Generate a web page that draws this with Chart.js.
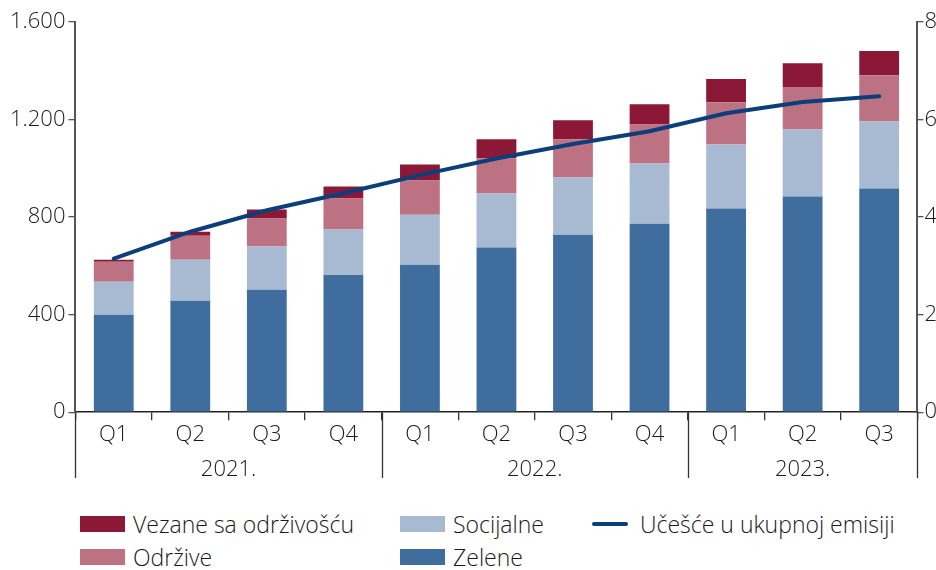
<!DOCTYPE html>
<html>
<head>
<meta charset="utf-8">
<script src="https://cdn.jsdelivr.net/npm/chart.js@4"></script>
<style>
  body { margin: 0; background: #fff; font-family: "Open Sans", sans-serif; }
  #wrap { position: relative; width: 936px; height: 483px; }
  #legend { display: grid; grid-template-columns: 320px 192px auto; grid-auto-rows: 33px;
            padding: 24px 0 0 80px; font-size: 23px; font-weight: 300; color: #1a1a1a; }
  #legend div { display: flex; align-items: center; white-space: nowrap; }
  #legend span { flex-shrink: 0; }
  #legend span.box { display: inline-block; width: 45px; height: 16px; margin-right: 8px; }
  #legend span.ln { display: inline-block; width: 36px; height: 4px; margin: 0 12px 0 0; border-radius: 2px; }
</style>
</head>
<body>
<div id="wrap"><canvas id="c"></canvas></div>
<div id="legend"></div>
<script>
const quarters = ['Q1', 'Q2', 'Q3', 'Q4', 'Q1', 'Q2', 'Q3', 'Q4', 'Q1', 'Q2', 'Q3'];
const years = ['2021.', '2022.', '2023.'];
const yearSpans = [4, 4, 3];

const zelene = [400, 457, 502, 563, 605, 675, 728, 773, 835, 884, 917];
const socijalne = [135, 168, 177, 186, 205, 222, 234, 247, 263, 276, 276];
const odrzive = [82, 99, 115, 127, 140, 144, 157, 160, 173, 173, 189];
const vezane = [8, 16, 37, 49, 66, 78, 78, 83, 95, 98, 99];
const ucesce = [3.15, 3.7, 4.14, 4.49, 4.86, 5.2, 5.5, 5.76, 6.13, 6.36, 6.48];

const leftTicks = [0, 400, 800, 1200, 1600];
const rightTicks = [0, 2, 4, 6, 8];

// year label centres and boundaries, in category index units
const yearCentres = [];
const yearBounds = [-0.5];
let start = 0;
yearSpans.forEach(n => {
  yearCentres.push(start + (n - 1) / 2);
  start += n;
  yearBounds.push(start - 0.5);
});

const fmt = v => String(v).replace(/(\d)(\d{3})$/, '$1.$2');
const font = { family: '"Open Sans", sans-serif', size: 22, weight: 300 };
const txt = '#1a1a1a';

const separators = {
  id: 'separators',
  afterDraw(chart) {
    const x2 = chart.scales.x2;
    const ctx = chart.ctx;
    ctx.save();
    ctx.strokeStyle = '#333';
    ctx.lineWidth = 1.3;
    yearBounds.forEach(b => {
      const px = Math.round(x2.getPixelForValue(b)) + 0.5;
      ctx.beginPath();
      ctx.moveTo(px, chart.chartArea.bottom);
      ctx.lineTo(px, x2.bottom - 5);
      ctx.stroke();
    });
    ctx.restore();
  }
};

// dataset indices: 0 line, 1 zelene, 2 socijalne, 3 odrzive, 4 vezane
const legendOrder = [4, 2, 0, 3, 1];
const htmlLegend = {
  id: 'htmlLegend',
  afterUpdate(chart) {
    const el = document.getElementById('legend');
    el.innerHTML = '';
    legendOrder.forEach(i => {
      const ds = chart.data.datasets[i];
      const item = document.createElement('div');
      const mark = document.createElement('span');
      if (ds.type === 'line') {
        mark.className = 'ln';
        mark.style.background = ds.borderColor;
      } else {
        mark.className = 'box';
        mark.style.background = ds.backgroundColor;
      }
      item.appendChild(mark);
      item.appendChild(document.createTextNode(ds.label));
      el.appendChild(item);
    });
  }
};

new Chart(document.getElementById('c'), {
  type: 'bar',
  data: {
    labels: quarters,
    datasets: [
      { type: 'line', label: 'Učešće u ukupnoj emisiji', data: ucesce, yAxisID: 'y1',
        borderColor: '#0a3f7c', borderWidth: 4, pointRadius: 0, tension: 0, order: 0,
        borderCapStyle: 'round' },
      { label: 'Zelene', data: zelene, backgroundColor: '#3f6e9e', order: 1 },
      { label: 'Socijalne', data: socijalne, backgroundColor: '#a7bad2', order: 1 },
      { label: 'Održive', data: odrzive, backgroundColor: '#bd7284', order: 1 },
      { label: 'Vezane sa održivošću', data: vezane, backgroundColor: '#8c1838', order: 1 }
    ]
  },
  options: {
    responsive: true,
    maintainAspectRatio: false,
    animation: false,
    layout: { padding: { top: 22, left: 7, right: -2, bottom: 0 } },
    datasets: { bar: { barPercentage: 0.52, categoryPercentage: 1 } },
    plugins: { legend: { display: false }, tooltip: { enabled: false } },
    scales: {
      x: {
        stacked: true,
        grid: { offset: true, drawOnChartArea: false, tickLength: 8, color: '#333', lineWidth: 1.3 },
        border: { color: '#222', width: 1.5 },
        ticks: { font, color: txt, padding: 1 }
      },
      x2: {
        type: 'linear',
        position: 'bottom',
        offset: false,
        min: -0.5,
        max: 10.5,
        afterBuildTicks: s => { s.ticks = yearCentres.map(v => ({ value: v })); },
        grid: { display: false, offset: false },
        border: { display: false },
        ticks: { font, color: txt, padding: 0, callback: (v, i) => years[i] }
      },
      y: {
        stacked: true,
        min: 0,
        max: 1600,
        afterBuildTicks: s => { s.ticks = leftTicks.map(v => ({ value: v })); },
        grid: { drawOnChartArea: false, tickLength: 7, color: '#555', lineWidth: 1.3 },
        border: { color: '#555', width: 2 },
        ticks: { font, color: txt, padding: 3, callback: v => fmt(v) }
      },
      y1: {
        position: 'right',
        min: 0,
        max: 8,
        afterBuildTicks: s => { s.ticks = rightTicks.map(v => ({ value: v })); },
        grid: { drawOnChartArea: false, tickLength: 6, color: '#555', lineWidth: 1.3 },
        border: { color: '#555', width: 2 },
        ticks: { font, color: txt, padding: 1 }
      }
    }
  },
  plugins: [separators, htmlLegend]
});
</script>
</body>
</html>
